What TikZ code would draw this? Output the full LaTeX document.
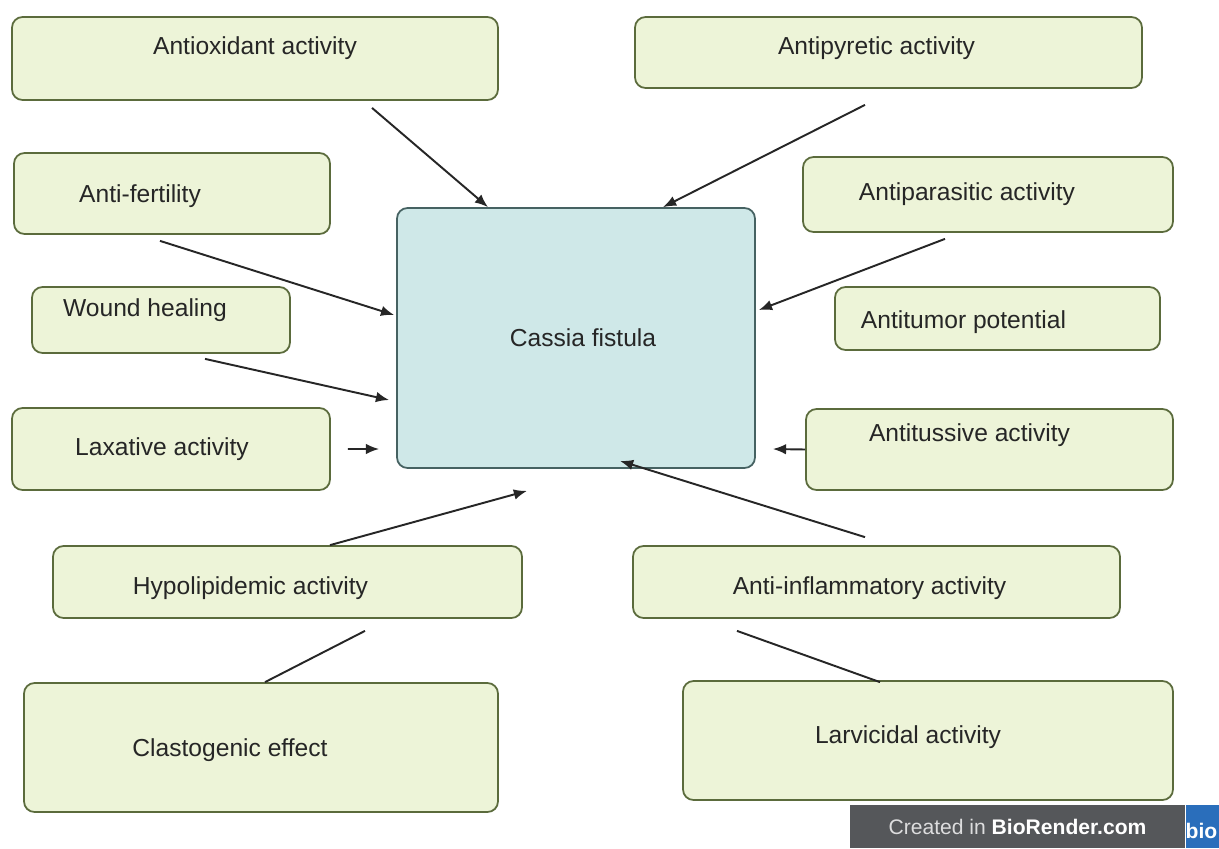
\documentclass[tikz,border=0pt]{standalone}
\usepackage{fontspec}
\setmainfont{Liberation Sans}
\usetikzlibrary{%
    arrows.meta,
    positioning
}
\definecolor{boxfill}{HTML}{EDF4D8}
\definecolor{boxline}{HTML}{5B6B3C}
\definecolor{hubfill}{HTML}{CFE8E8}
\definecolor{hubline}{HTML}{466262}
\definecolor{markgrey}{HTML}{55575A}
\definecolor{markblue}{HTML}{2A6EBB}
\tikzset{headarrow/.style = {-{Latex[length=.75em,width=.6em]}, line width=1.1pt, draw=black!85}}
\tikzset{plainline/.style = {line width=1.1pt, draw=black!85}}
\tikzset{actbox/.style = {draw=boxline, fill=boxfill, line width=1pt, rounded corners=6pt,
    inner sep=0pt}}
\tikzset{acttext/.style = {font=\fontsize{14}{17}\selectfont, text=black!85}}

\begin{document}
\begin{tikzpicture}
    \useasboundingbox (0,0) rectangle (24.38,-16.96);
    \fill[white] (0,0) rectangle (24.38,-16.96);

    % centre box
    \node[draw=hubline, fill=hubfill, line width=1pt, rounded corners=6pt,
        minimum width=7.16cm, minimum height=5.2cm,
        label={[acttext, xshift=.14cm]center:Cassia fistula}] (cassia) at (11.52,-6.76) {};

    % activities
    \node[actbox, minimum width=9.72cm, minimum height=1.66cm,
        label={[acttext, yshift=.21cm]center:Antioxidant activity}] (antiox) at (5.10,-1.17) {};
    \node[actbox, minimum width=10.14cm, minimum height=1.42cm,
        label={[acttext, xshift=-.24cm, yshift=.09cm]center:Antipyretic activity}] (antipyr) at (17.77,-1.05) {};
    \node[actbox, minimum width=6.32cm, minimum height=1.62cm,
        label={[acttext, xshift=-.64cm, yshift=-.05cm]center:Anti-fertility}] (antifert) at (3.44,-3.87) {};
    \node[actbox, minimum width=7.40cm, minimum height=1.50cm,
        label={[acttext, xshift=-.42cm]center:Antiparasitic activity}] (antipara) at (19.76,-3.89) {};
    \node[actbox, minimum width=5.16cm, minimum height=1.32cm,
        label={[acttext, xshift=-.32cm, yshift=.2cm]center:Wound healing}] (wound) at (3.22,-6.40) {};
    \node[actbox, minimum width=6.50cm, minimum height=1.26cm,
        label={[acttext, xshift=-.68cm, yshift=-.07cm]center:Antitumor potential}] (antitum) at (19.95,-6.37) {};
    \node[actbox, minimum width=6.36cm, minimum height=1.64cm,
        label={[acttext, xshift=-.18cm]center:Laxative activity}] (laxat) at (3.42,-8.98) {};
    \node[actbox, minimum width=7.34cm, minimum height=1.62cm,
        label={[acttext, xshift=-.40cm, yshift=.29cm]center:Antitussive activity}] (antituss) at (19.79,-8.99) {};
    \node[actbox, minimum width=9.38cm, minimum height=1.44cm,
        label={[acttext, xshift=-.74cm, yshift=-.12cm]center:Hypolipidemic activity}] (hypolip) at (5.75,-11.64) {};
    \node[actbox, minimum width=9.74cm, minimum height=1.44cm,
        label={[acttext, xshift=-.14cm, yshift=-.12cm]center:Anti-inflammatory activity}] (antiinfl) at (17.53,-11.64) {};
    \node[actbox, minimum width=9.48cm, minimum height=2.58cm,
        label={[acttext, xshift=-.62cm, yshift=-.05cm]center:Clastogenic effect}] (clasto) at (5.22,-14.95) {};
    \node[actbox, minimum width=9.80cm, minimum height=2.38cm,
        label={[acttext, xshift=-.40cm, yshift=.07cm]center:Larvicidal activity}] (larvi) at (18.56,-14.81) {};

    % arrows into the centre box
    \draw[headarrow] ([xshift=2.34cm,yshift=-.14cm]antiox.south) -- ([xshift=-1.76cm]cassia.north);
    \draw[headarrow] ([xshift=-.47cm,yshift=-.32cm]antipyr.south) -- ([xshift=1.74cm]cassia.north);
    \draw[headarrow] ([xshift=-.24cm,yshift=-.12cm]antifert.south) -- ([xshift=-.04cm,yshift=.46cm]cassia.west);
    \draw[headarrow] ([xshift=-.86cm,yshift=-.12cm]antipara.south) -- ([xshift=.06cm,yshift=.56cm]cassia.east);
    \draw[headarrow] ([xshift=.88cm,yshift=-.10cm]wound.south) -- ([xshift=-.14cm,yshift=-1.24cm]cassia.west);
    \draw[headarrow] ([xshift=.34cm]laxat.east) -- ([xshift=-.34cm,yshift=-2.22cm]cassia.west);
    \draw[headarrow] (antituss.west) -- ([xshift=.34cm,yshift=-2.22cm]cassia.east);
    \draw[headarrow] ([xshift=.85cm]hypolip.north) -- ([xshift=-.98cm,yshift=-.44cm]cassia.south);
    \draw[headarrow] ([xshift=-.23cm,yshift=.16cm]antiinfl.north) -- ([xshift=.88cm,yshift=.16cm]cassia.south);

    % lines to the lower boxes
    \draw[plainline] ([xshift=1.55cm,yshift=-.24cm]hypolip.south) -- ([xshift=.08cm]clasto.north);
    \draw[plainline] ([xshift=-2.79cm,yshift=-.24cm]antiinfl.south) -- ([xshift=-.96cm,yshift=-.04cm]larvi.north);

    % BioRender mark
    \node[fill=markgrey, minimum width=6.70cm, minimum height=.86cm, inner sep=0pt,
        font=\fontsize{12}{14}\selectfont, text=white] (mark) at (20.35,-16.53)
        {\textcolor{white!80!markgrey}{Created in} \textbf{BioRender.com}};
    \node[fill=markblue, minimum width=.70cm, minimum height=.86cm, inner sep=0pt,
        anchor=west, font=\bfseries\fontsize{12}{14}\selectfont, text=white,
        text width=.70cm, align=left] (markbio) at (mark.east) {\hspace{.1cm}bio};
\end{tikzpicture}
\end{document}
